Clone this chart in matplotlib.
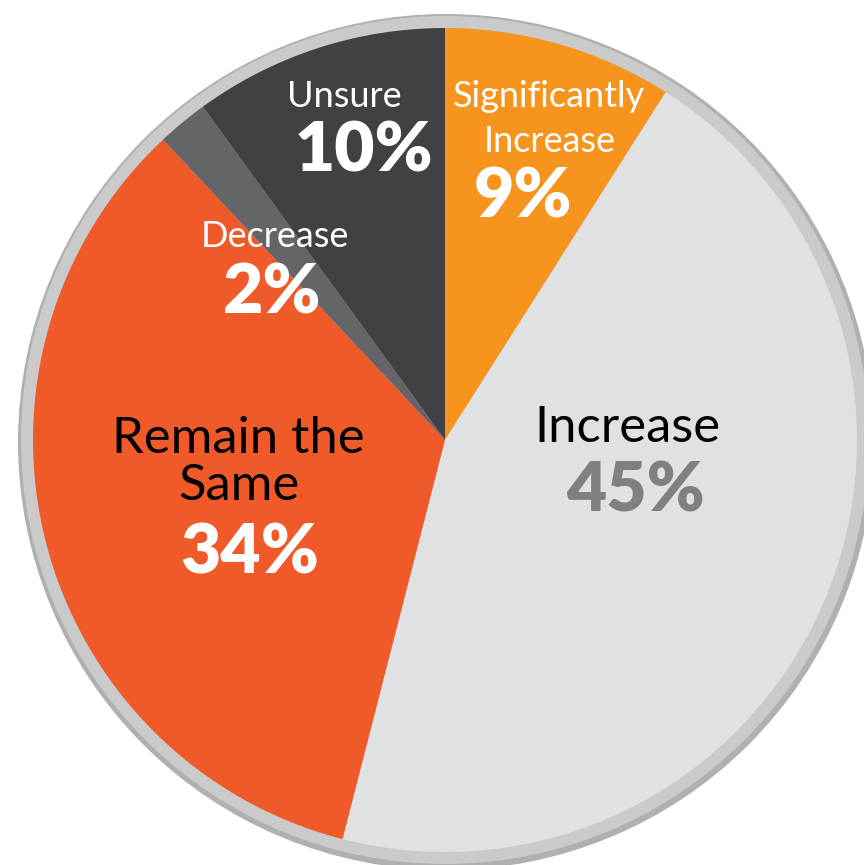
import matplotlib
matplotlib.use('Agg')
import matplotlib.pyplot as plt
from matplotlib.patches import Circle

# pie data, clockwise from 12 o'clock
categories = ['Significantly\nIncrease', 'Increase', 'Remain the\nSame', 'Decrease', 'Unsure']
values = [9, 45, 34, 2, 10]
pct_labels = ['9%', '45%', '34%', '2%', '10%']
colors = ['#F7941D', '#E0E1E3', '#F05A28', '#636569', '#414042']

W, H = 864, 865
plt.rcParams['font.family'] = ['Lato', 'DejaVu Sans']

fig = plt.figure(figsize=(W / 100, H / 100), dpi=100)
ax = fig.add_axes([0, 0, 1, 1])

cx, cy = 445, H - 440

# grey rim around the pie
ax.add_patch(Circle((cx + 1, cy - 2), 428, facecolor='#B0B0B0', edgecolor='none', zorder=0))
ax.add_patch(Circle((cx, cy), 424, facecolor='#CACACA', edgecolor='none', zorder=0))

ax.pie(values, colors=colors, startangle=90, counterclock=False,
       center=(cx, cy), radius=412, wedgeprops=dict(linewidth=0))

# labels: baseline positions in pixels from top
def put(x, y, s, size, color, weight='normal'):
    ax.text(x, H - y, s, ha='center', va='baseline', fontsize=size,
            color=color, fontweight=weight, zorder=5)

small = 26
big = 36.5
pct = 50

put(344, 107, 'Unsure', small, 'white')
put(364, 172, pct_labels[4], pct, 'white', 'heavy')

put(549, 107, 'Significantly', small, 'white')
put(550, 152, 'Increase', small, 'white')
put(523, 218, pct_labels[0], pct, 'white', 'heavy')

put(275, 247, categories[3], small, 'white')
put(272, 313, pct_labels[3], pct, 'white', 'heavy')

put(238, 453, 'Remain the', big, 'black')
put(239, 500, 'Same', big, 'black')
put(250, 573, pct_labels[2], pct, 'white', 'heavy')

put(627, 442, categories[1], big, 'black')
put(636, 512, pct_labels[1], pct, '#808080', 'heavy')

ax.set_xlim(0, W)
ax.set_ylim(0, H)
ax.set_aspect('equal')
ax.axis('off')

fig.savefig('out.png', dpi=100, facecolor='white')
